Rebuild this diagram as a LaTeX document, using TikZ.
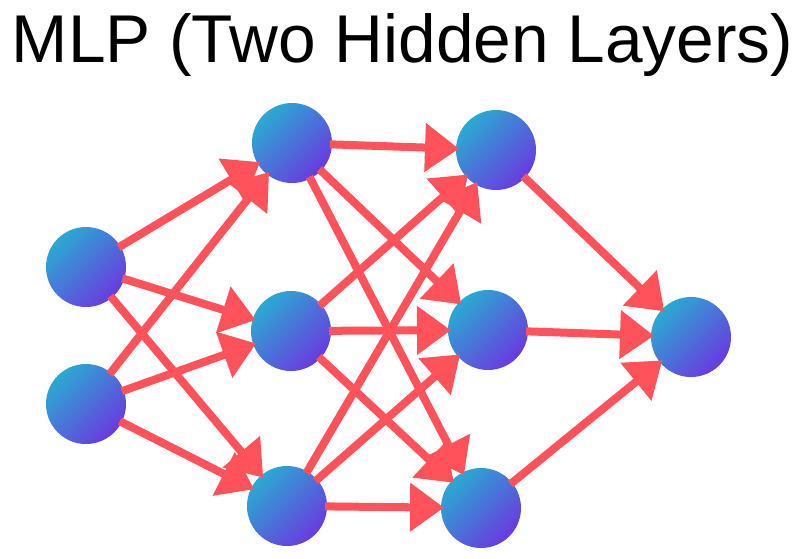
\documentclass[tikz,border=0pt]{standalone}
\usepackage{fontspec}
\setmainfont{Liberation Sans}
\usetikzlibrary{arrows.meta}
\definecolor{nodeA}{HTML}{2AAAD2}
\definecolor{nodeB}{HTML}{6A3AE0}
\definecolor{edgeC}{HTML}{FF525A}
\begin{document}
\begin{tikzpicture}[x=1pt,y=-1pt,
  neuron/.style={circle, minimum size=80pt, inner sep=0pt, top color=nodeA, bottom color=nodeB, shading angle=45},
  conn/.style={draw=edgeC, line width=8pt, -{Triangle[length=34pt,width=47pt]}, shorten <=38pt, shorten >=37pt}]
\useasboundingbox (0,0) rectangle (804,558);
\node[anchor=base, inner sep=0pt, font=\fontsize{67.6}{70}\selectfont] (title) at (402.5,62) {MLP (Two Hidden Layers)};
% input layer
\node[neuron] (i1) at (86,267) {};
\node[neuron] (i2) at (86,404) {};
% hidden layer 1
\node[neuron] (a1) at (292,143) {};
\node[neuron] (a2) at (291,331) {};
\node[neuron] (a3) at (287,506) {};
% hidden layer 2
\node[neuron] (b1) at (496,150) {};
\node[neuron] (b2) at (488,330) {};
\node[neuron] (b3) at (481,508) {};
% output
\node[neuron] (o1) at (691,337) {};
% connections
\foreach \s in {i1,i2}{\foreach \t in {a1,a2,a3}{\draw[conn] (\s.center) -- (\t.center);}}
\foreach \s in {a1,a2,a3}{\foreach \t in {b1,b2,b3}{\draw[conn] (\s.center) -- (\t.center);}}
\foreach \s in {b1,b2,b3}{\draw[conn] (\s.center) -- (o1.center);}
\end{tikzpicture}
\end{document}
